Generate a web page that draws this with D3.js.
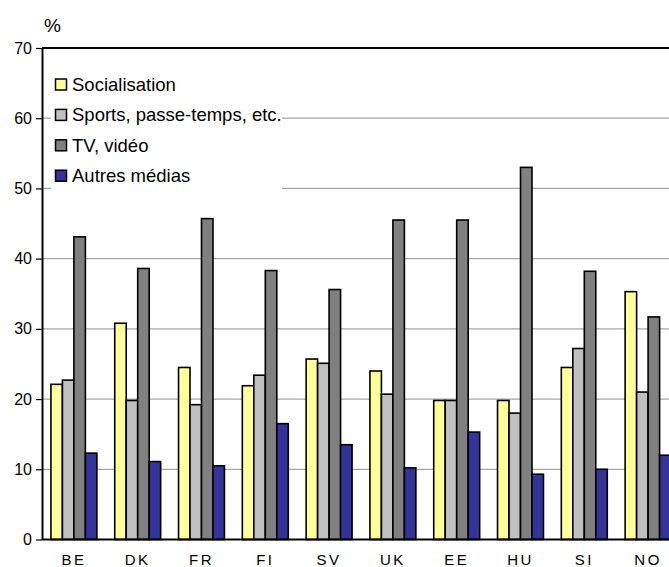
<!DOCTYPE html>
<html><head><meta charset="utf-8">
<script src="https://cdn.jsdelivr.net/npm/d3@7"></script>
<style>
html,body{margin:0;padding:0;background:#fff;overflow:hidden;}
svg{display:block;font-family:"Liberation Sans",Arial,sans-serif;}
</style></head>
<body>
<svg id="c" width="669" height="567"></svg>
<script>
const categories = ["BE","DK","FR","FI","SV","UK","EE","HU","SI","NO"];
const seriesNames = ["Socialisation","Sports, passe-temps, etc.","TV, vidéo","Autres médias"];
const socialisation = [22.1, 30.8, 24.5, 21.9, 25.7, 24.0, 19.8, 19.8, 24.5, 35.3];
const sports        = [22.7, 19.8, 19.2, 23.4, 25.1, 20.7, 19.8, 18.0, 27.2, 21.0];
const tvVideo       = [43.1, 38.6, 45.7, 38.3, 35.6, 45.5, 45.5, 53.0, 38.2, 31.7];
const autresMedias  = [12.3, 11.1, 10.5, 16.5, 13.5, 10.2, 15.3,  9.3, 10.0, 12.0];
const yTicks = [0,10,20,30,40,50,60,70];
const colors = ["#FFFF99","#C0C0C0","#808080","#333399"];

const seriesValues = [socialisation, sports, tvVideo, autresMedias];
const svg = d3.select("#c");
const pLeft = 42, pRight = 680, pTop = 48, pBottom = 539.5;

const x0 = d3.scaleBand().domain(categories).range([pLeft, pRight]).paddingInner(0.28).paddingOuter(0.14);
const x1 = d3.scaleBand().domain(d3.range(4)).range([0, x0.bandwidth()]);
const y = d3.scaleLinear().domain([0,70]).range([pBottom, pTop]);

// gridlines
svg.append("g").selectAll("line").data(yTicks.filter(t => t > 0 && t < 70)).join("line")
  .attr("x1", pLeft).attr("x2", pRight).attr("y1", d => y(d)).attr("y2", d => y(d))
  .attr("stroke", "#a6a6a6").attr("stroke-width", 1.2);
// top border
svg.append("line").attr("x1", pLeft).attr("x2", pRight).attr("y1", y(70)).attr("y2", y(70))
  .attr("stroke", "#000").attr("stroke-width", 2);

// legend background
svg.append("rect").attr("x", 51).attr("y", 62).attr("width", 231).attr("height", 133).attr("fill", "#fff");

// bars
const rows = categories.map((c, i) => ({c, vals: seriesValues.map(s => s[i])}));
svg.append("g").selectAll("g").data(rows).join("g")
  .attr("transform", d => `translate(${x0(d.c)},0)`)
  .selectAll("rect").data(d => d.vals.map((v, k) => ({v, k}))).join("rect")
  .attr("x", d => x1(d.k)).attr("width", x1.bandwidth())
  .attr("y", d => y(d.v)).attr("height", d => y(0) - y(d.v))
  .attr("fill", d => colors[d.k]).attr("stroke", "#000").attr("stroke-width", 1.6);

// y axis
const yAxis = svg.append("g").attr("transform", `translate(${pLeft},0)`)
  .call(d3.axisLeft(y).tickValues(yTicks).tickSize(6).tickPadding(4).tickSizeOuter(0));
yAxis.select(".domain").attr("stroke", "#000").attr("stroke-width", 2);
yAxis.selectAll(".tick line").attr("stroke", "#000").attr("stroke-width", 1.2);
yAxis.selectAll(".tick text").attr("font-size", 16).attr("fill", "#000")
  .attr("font-family", "Liberation Sans, Arial, sans-serif");

// x axis line
svg.append("line").attr("x1", pLeft).attr("x2", pRight).attr("y1", y(0)).attr("y2", y(0))
  .attr("stroke", "#000").attr("stroke-width", 2);

// x labels
const xAxis = svg.append("g").attr("transform", `translate(0,${y(0)})`)
  .call(d3.axisBottom(x0).tickSize(0).tickPadding(15));
xAxis.select(".domain").remove();
xAxis.selectAll(".tick text").attr("font-size", 15).attr("fill", "#000")
  .attr("letter-spacing", "2.5px").attr("font-family", "Liberation Sans, Arial, sans-serif");

// % label
svg.append("text").attr("x", 44).attr("y", 32).attr("font-size", 19).text("%");

// legend
const lg = svg.append("g");
seriesNames.forEach((n, i) => {
  const cy = 84.5 + i * 30.4;
  lg.append("rect").attr("x", 55.5).attr("y", cy - 5.5).attr("width", 11).attr("height", 11)
    .attr("fill", colors[i]).attr("stroke", "#000").attr("stroke-width", 1.5);
  lg.append("text").attr("x", 72).attr("y", cy + 6.5).attr("font-size", 18.5).attr("fill", "#000").text(n);
});
</script>
</body></html>
